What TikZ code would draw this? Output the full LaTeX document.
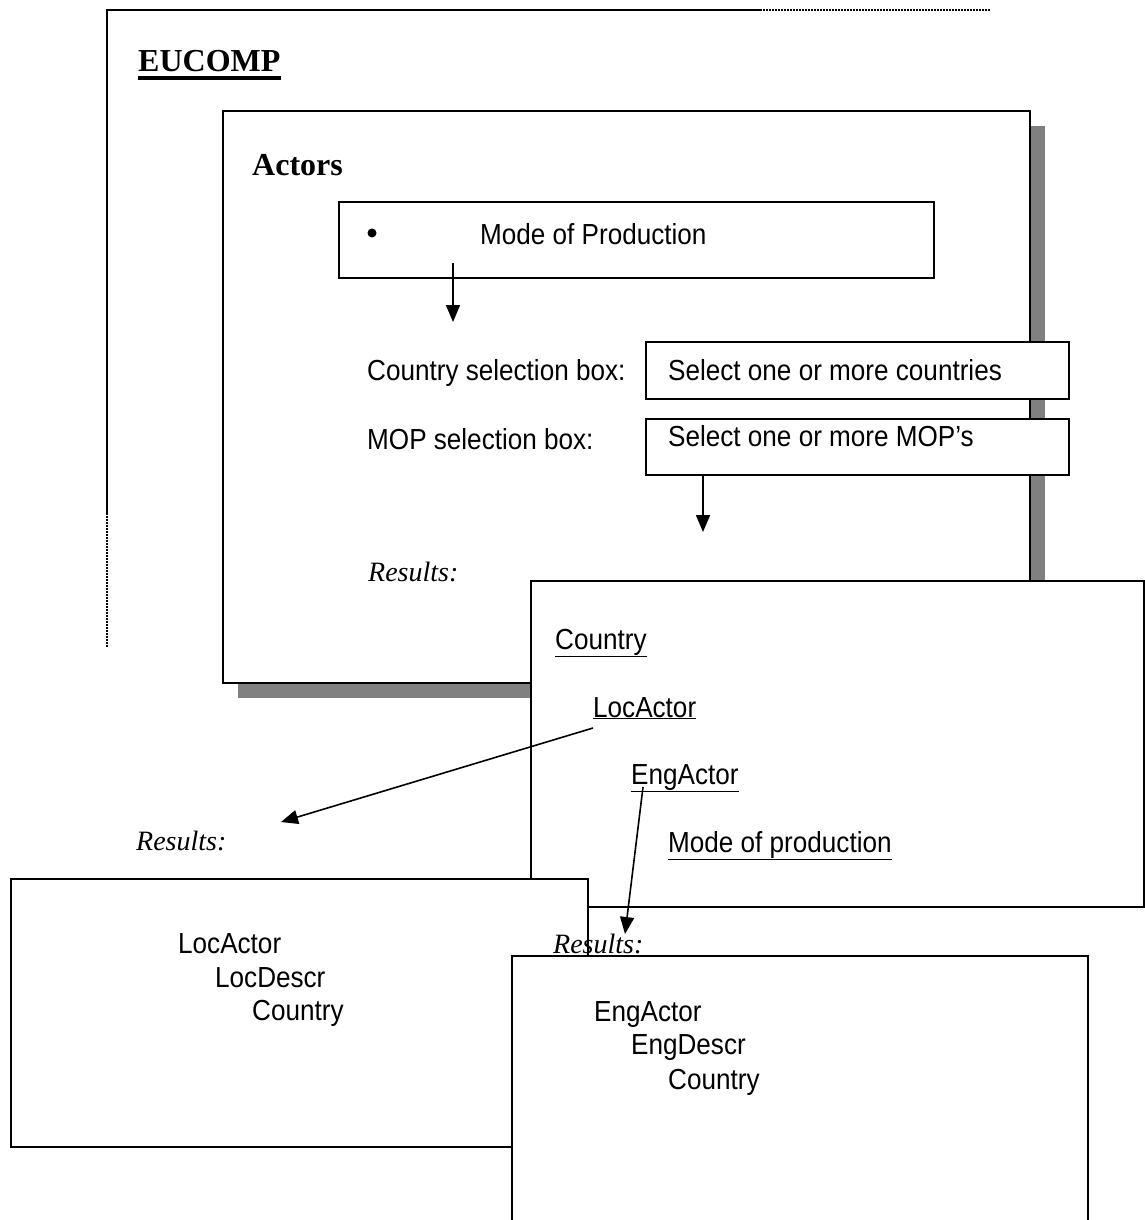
\documentclass[tikz,border=0pt]{standalone}
\usepackage{fontspec}
\setmainfont{Liberation Serif}
\newfontfamily\uisans[FakeStretch=0.9]{Liberation Sans}
\usetikzlibrary{arrows.meta,calc}

\definecolor{shadowgray}{HTML}{808080}

\tikzset{
  box/.style={draw=black, line width=2pt, fill=white, rectangle, anchor=north west, inner sep=0pt},
  ui/.style={font=\uisans\fontsize{29}{33}\selectfont, anchor=base west, inner sep=0pt},
  head/.style={font=\bfseries\fontsize{32}{36}\selectfont, anchor=base west, inner sep=0pt},
  res/.style={font=\itshape\fontsize{28}{32}\selectfont, anchor=base west, inner sep=0pt},
  arr/.style={line width=1.6pt, -{Triangle[length=17pt,width=14pt]}},
  frame/.style={line width=2pt},
  dots/.style={line width=2pt, dash pattern=on 1.5pt off 1.5pt}
}

\begin{document}
\begin{tikzpicture}[x=1pt,y=-1pt]
  \clip (0,0) rectangle (1145,1220);
  \fill[white] (0,0) rectangle (1145,1220);

  % outer EUCOMP frame: solid part, then dotted continuation
  \coordinate (fTL) at (107,10);
  \coordinate (fTM) at (760,10);
  \coordinate (fTR) at (990,10);
  \coordinate (fLM) at (107,513);
  \coordinate (fLB) at (107,647);
  \draw[frame] (fLM) -- (fTL) -- (fTM);
  \draw[dots] (fTM) -- (fTR);
  \draw[dots] (fLM) -- (fLB);
  \node[head] (eucomp) at (138,72) {EUCOMP};
  \fill ([yshift=-4pt]eucomp.base west) rectangle ([yshift=-8pt]eucomp.base east);

  % Actors panel with drop shadow
  \fill[shadowgray] (238,126) rectangle (1045,698);
  \node[box, minimum width=807pt, minimum height=572pt] (actors) at (222,110) {};
  \node[head] (actorsT) at (252,175) {Actors};

  % mode of production box
  \node[box, minimum width=595pt, minimum height=76pt] (mode) at (338,201) {};
  \fill (372,233) circle (4.5);
  \node[ui] (modeT) at (480,244) {Mode of Production};
  \coordinate (m1) at (453,263);
  \coordinate (m2) at (453,322);
  \draw[arr] (m1) -- (m2);

  % selection boxes
  \node[ui] (ctyL) at (367,380) {Country selection box:};
  \node[box, minimum width=423pt, minimum height=57pt] (ctyBox) at (645,341) {};
  \node[ui] (ctyT) at (668,380) {Select one or more countries};
  \node[ui] (mopL) at (367,449) {MOP selection box:};
  \node[box, minimum width=423pt, minimum height=56pt] (mopBox) at (645,418) {};
  \node[ui] (mopT) at (668,446) {Select one or more MOP’s};
  \coordinate (p1) at (703,474);
  \coordinate (p2) at (703,532);
  \draw[arr] (p1) -- (p2);
  \node[res] (res1) at (368,581) {Results:};

  % country result panel
  \node[box, minimum width=613pt, minimum height=326pt] (country) at (530,580) {};
  \node[ui] (cC) at (555,649) {\underline{Country}};
  \node[ui] (cLoc) at (593,717) {\underline{LocActor}};
  \node[ui] (cEng) at (631,784) {\underline{EngActor}};
  \node[ui] (cMop) at (668,852) {\underline{Mode of production}};
  \node[res] (res2) at (136,850) {Results:};

  % LocActor result panel
  \node[box, minimum width=577pt, minimum height=268pt] (loc) at (10,878) {};
  \node[ui] (l1) at (178,953) {LocActor};
  \node[ui] (l2) at (215,987) {LocDescr};
  \node[ui] (l3) at (252,1020) {Country};

  % EngActor result panel (runs off the bottom)
  \node[box, minimum width=576pt, minimum height=300pt] (eng) at (511,955) {};
  \node[ui] (e1) at (594,1021) {EngActor};
  \node[ui] (e2) at (631,1054) {EngDescr};
  \node[ui] (e3) at (668,1089) {Country};
  \node[res] (res3) at (553,953) {Results:};

  % links from the country panel to the detail panels
  \coordinate (q1) at (593,728);
  \coordinate (q2) at (281,822);
  \draw[arr] (q1) -- (q2);
  \coordinate (r1) at (643,787);
  \coordinate (r2) at (625,934);
  \draw[arr] (r1) -- (r2);
\end{tikzpicture}
\end{document}
